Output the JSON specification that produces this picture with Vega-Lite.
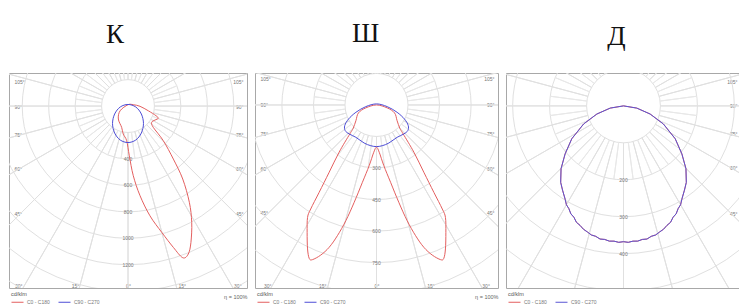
{
"$schema": "https://vega.github.io/schema/vega-lite/v6.json",
"padding": {"left": 8, "top": 19, "right": 0, "bottom": 0},
"background": "white",
"spacing": 6,
"datasets": {
"angles": [{"a":0},{"a":15},{"a":30},{"a":45},{"a":60},{"a":75},{"a":90},{"a":105},{"a":120},{"a":135},{"a":150},{"a":165},{"a":180},{"a":195},{"a":210},{"a":225},{"a":240},{"a":255},{"a":270},{"a":285},{"a":300},{"a":315},{"a":330},{"a":345}],
"half": [{"a":7.5},{"a":22.5},{"a":37.5},{"a":52.5},{"a":67.5},{"a":82.5},{"a":97.5},{"a":112.5},{"a":127.5},{"a":142.5},{"a":157.5},{"a":172.5},{"a":187.5},{"a":202.5},{"a":217.5},{"a":232.5},{"a":247.5},{"a":262.5},{"a":277.5},{"a":292.5},{"a":307.5},{"a":322.5},{"a":337.5},{"a":352.5}]
},
"hconcat": [
{
"width": 238, "height": 215,
"title": {"text": "К", "font": "Liberation Serif", "fontSize": 27, "fontWeight": "normal", "color": "#111", "anchor": "middle", "dx": -13, "baseline": "alphabetic", "offset": 3},
"resolve": {"axis": {"x": "independent", "y": "independent"}},
"layer": [
{"data": {"values": [{"r":200},{"r":400},{"r":600},{"r":800},{"r":1000},{"r":1200},{"r":1400},{"r":1600}]},
 "mark": {"type": "arc", "theta": 0, "theta2": 6.2832, "filled": false, "stroke": "#e0e0e0", "strokeWidth": 1, "clip": true},
 "encoding": {
  "x": {"datum": 0, "type": "quantitative", "scale": {"domain": [-900, 900], "nice": false, "zero": false}, "axis": null},
  "y": {"datum": 0, "type": "quantitative", "scale": {"domain": [-250, 1376.1], "nice": false, "zero": false, "reverse": true}, "axis": null},
  "radius": {"field": "r", "type": "quantitative", "stack": null, "scale": {"type": "linear", "domain": [0, 1000], "range": [0, 132.222], "zero": true, "nice": false}}}},
{"data": {"name": "angles"},
 "mark": {"type": "arc", "filled": false, "stroke": "#e0e0e0", "strokeWidth": 1, "clip": true},
 "encoding": {
  "x": {"datum": 0, "type": "quantitative", "axis": null},
  "y": {"datum": 0, "type": "quantitative", "axis": null},
  "theta": {"field": "a", "type": "quantitative", "stack": null, "scale": {"domain": [0, 360], "range": [0, 6.283185]}},
  "theta2": {"field": "a"},
  "radius": {"datum": 200, "type": "quantitative"},
  "radius2": {"datum": 2200}}},
{"data": {"name": "half"},
 "mark": {"type": "arc", "filled": false, "stroke": "#e8e8e8", "strokeWidth": 1, "clip": true},
 "encoding": {
  "x": {"datum": 0, "type": "quantitative", "axis": null},
  "y": {"datum": 0, "type": "quantitative", "axis": null},
  "theta": {"field": "a", "type": "quantitative", "stack": null},
  "theta2": {"field": "a"},
  "radius": {"datum": 200, "type": "quantitative"},
  "radius2": {"datum": 400}}},
{"data": {"values": [{"r":400},{"r":600},{"r":800},{"r":1000},{"r":1200}]},
 "mark": {"type": "text", "fontSize": 5, "color": "#777", "font": "Liberation Sans", "baseline": "middle"},
 "encoding": {
  "x": {"datum": 0, "type": "quantitative", "axis": null},
  "y": {"field": "r", "type": "quantitative", "axis": {"orient": "right", "values": [-189, 0, 212, 469, 809], "labelExpr": "datum.value < -100 ? '105°' : datum.value < 100 ? '90°' : datum.value < 300 ? '75°' : datum.value < 600 ? '60°' : '45°'", "labelAlign": "right", "labelPadding": -4, "labelBaseline": "middle", "title": null}},
  "text": {"field": "r", "type": "quantitative", "format": "d"}}},
{"data": {"values": [
{"p":"C0 - C180","i":0,"x":0,"y":-10},{"p":"C0 - C180","i":1,"x":-60,"y":36},{"p":"C0 - C180","i":2,"x":-73,"y":98},{"p":"C0 - C180","i":3,"x":-48,"y":161},{"p":"C0 - C180","i":4,"x":-36,"y":212},{"p":"C0 - C180","i":5,"x":-10,"y":262},{"p":"C0 - C180","i":6,"x":10,"y":376},{"p":"C0 - C180","i":7,"x":40,"y":527},{"p":"C0 - C180","i":8,"x":91,"y":678},{"p":"C0 - C180","i":9,"x":166,"y":830},{"p":"C0 - C180","i":10,"x":255,"y":955},{"p":"C0 - C180","i":11,"x":343,"y":1069},{"p":"C0 - C180","i":12,"x":414,"y":1147},{"p":"C0 - C180","i":13,"x":456,"y":1119},{"p":"C0 - C180","i":14,"x":476,"y":1031},{"p":"C0 - C180","i":15,"x":482,"y":880},{"p":"C0 - C180","i":16,"x":464,"y":728},{"p":"C0 - C180","i":17,"x":414,"y":552},{"p":"C0 - C180","i":18,"x":343,"y":401},{"p":"C0 - C180","i":19,"x":267,"y":262},{"p":"C0 - C180","i":20,"x":191,"y":161},{"p":"C0 - C180","i":21,"x":179,"y":123},{"p":"C0 - C180","i":22,"x":204,"y":106},{"p":"C0 - C180","i":23,"x":229,"y":93},{"p":"C0 - C180","i":24,"x":212,"y":73},{"p":"C0 - C180","i":25,"x":154,"y":36},{"p":"C0 - C180","i":26,"x":91,"y":2},{"p":"C0 - C180","i":27,"x":40,"y":-10},
{"p":"C90 - C270","i":0,"x":0,"y":-12},{"p":"C90 - C270","i":1,"x":58.5,"y":7},{"p":"C90 - C270","i":2,"x":101,"y":60},{"p":"C90 - C270","i":3,"x":117,"y":132},{"p":"C90 - C270","i":4,"x":101,"y":204},{"p":"C90 - C270","i":5,"x":58.5,"y":257},{"p":"C90 - C270","i":6,"x":0,"y":276},{"p":"C90 - C270","i":7,"x":-58.5,"y":257},{"p":"C90 - C270","i":8,"x":-101,"y":204},{"p":"C90 - C270","i":9,"x":-117,"y":132},{"p":"C90 - C270","i":10,"x":-101,"y":60},{"p":"C90 - C270","i":11,"x":-58.5,"y":7}
]},
 "mark": {"type": "line", "interpolate": "cardinal-closed", "strokeWidth": 1, "clip": true},
 "encoding": {
  "x": {"field": "x", "type": "quantitative", "axis": {"orient": "bottom", "values": [-830, -401, 0, 406, 827], "labelExpr": "abs(datum.value) > 600 ? '30°' : abs(datum.value) > 200 ? '15°' : '0°'", "labelAlign": "center", "labelBaseline": "middle", "labelPadding": -3, "title": "η = 100%", "titleAnchor": "end", "titleFontSize": 5.5, "titleFontWeight": "normal", "titleColor": "#666", "titleFont": "Liberation Sans", "titlePadding": 6}},
  "y": {"field": "y", "type": "quantitative", "axis": {"orient": "left", "values": [-189, 0, 212, 469, 809], "labelExpr": "datum.value < -100 ? '105°' : datum.value < 100 ? '90°' : datum.value < 300 ? '75°' : datum.value < 600 ? '60°' : '45°'", "labelAlign": "left", "labelPadding": -5, "labelBaseline": "middle", "title": null}},
  "color": {"field": "p", "type": "nominal", "scale": {"domain": ["C0 - C180", "C90 - C270"], "range": ["#e45f5f", "#4d4dd6"]}, "legend": {"orient": "none", "legendX": 2, "legendY": 219, "direction": "horizontal", "title": "cd/klm"}},
  "order": {"field": "i", "type": "quantitative"}}}
]
},
{
"width": 243, "height": 215,
"title": {"text": "Ш", "font": "Liberation Serif", "fontSize": 27, "fontWeight": "normal", "color": "#111", "anchor": "middle", "dx": -11, "baseline": "alphabetic", "offset": 4},
"resolve": {"axis": {"x": "independent", "y": "independent"}},
"layer": [
{"data": {"values": [{"r":150},{"r":300},{"r":450},{"r":600},{"r":750},{"r":900},{"r":1050}]},
 "mark": {"type": "arc", "theta": 0, "theta2": 6.2832, "filled": false, "stroke": "#e0e0e0", "strokeWidth": 1, "clip": true},
 "encoding": {
  "x": {"datum": 0, "type": "quantitative", "scale": {"domain": [-578, 578], "nice": false, "zero": false}, "axis": null},
  "y": {"datum": 0, "type": "quantitative", "scale": {"domain": [-152, 870.8], "nice": false, "zero": false, "reverse": true}, "axis": null},
  "radius": {"field": "r", "type": "quantitative", "stack": null, "scale": {"type": "linear", "domain": [0, 1000], "range": [0, 210.208], "zero": true, "nice": false}}}},
{"data": {"name": "angles"},
 "mark": {"type": "arc", "filled": false, "stroke": "#e0e0e0", "strokeWidth": 1, "clip": true},
 "encoding": {
  "x": {"datum": 0, "type": "quantitative", "axis": null},
  "y": {"datum": 0, "type": "quantitative", "axis": null},
  "theta": {"field": "a", "type": "quantitative", "stack": null, "scale": {"domain": [0, 360], "range": [0, 6.283185]}},
  "theta2": {"field": "a"},
  "radius": {"datum": 150, "type": "quantitative"},
  "radius2": {"datum": 1300}}},
{"data": {"name": "half"},
 "mark": {"type": "arc", "filled": false, "stroke": "#e8e8e8", "strokeWidth": 1, "clip": true},
 "encoding": {
  "x": {"datum": 0, "type": "quantitative", "axis": null},
  "y": {"datum": 0, "type": "quantitative", "axis": null},
  "theta": {"field": "a", "type": "quantitative", "stack": null},
  "theta2": {"field": "a"},
  "radius": {"datum": 150, "type": "quantitative"},
  "radius2": {"datum": 300}}},
{"data": {"values": [{"r":300},{"r":450},{"r":600},{"r":750}]},
 "mark": {"type": "text", "fontSize": 5, "color": "#777", "font": "Liberation Sans", "baseline": "middle"},
 "encoding": {
  "x": {"datum": 0, "type": "quantitative", "axis": null},
  "y": {"field": "r", "type": "quantitative", "axis": {"orient": "right", "values": [-124, 0, 138, 300, 514], "labelExpr": "datum.value < -60 ? '105°' : datum.value < 60 ? '90°' : datum.value < 200 ? '75°' : datum.value < 400 ? '60°' : '45°'", "labelAlign": "right", "labelPadding": -4, "labelBaseline": "middle", "title": null}},
  "text": {"field": "r", "type": "quantitative", "format": "d"}}},
{"data": {"values": [
{"p":"C0 - C180","i":0,"x":0,"y":0},{"p":"C0 - C180","i":1,"x":51,"y":14},{"p":"C0 - C180","i":2,"x":86,"y":38},{"p":"C0 - C180","i":3,"x":98,"y":75},{"p":"C0 - C180","i":4,"x":111,"y":111},{"p":"C0 - C180","i":5,"x":127,"y":138},{"p":"C0 - C180","i":6,"x":178,"y":225},{"p":"C0 - C180","i":7,"x":225,"y":320},{"p":"C0 - C180","i":8,"x":273,"y":416},{"p":"C0 - C180","i":9,"x":313,"y":495},{"p":"C0 - C180","i":10,"x":328,"y":535},{"p":"C0 - C180","i":11,"x":330,"y":606},{"p":"C0 - C180","i":12,"x":328,"y":685},{"p":"C0 - C180","i":13,"x":320,"y":730},{"p":"C0 - C180","i":14,"x":305,"y":736},{"p":"C0 - C180","i":15,"x":265,"y":714},{"p":"C0 - C180","i":16,"x":225,"y":677},{"p":"C0 - C180","i":17,"x":186,"y":622},{"p":"C0 - C180","i":18,"x":146,"y":551},{"p":"C0 - C180","i":19,"x":106,"y":463},{"p":"C0 - C180","i":20,"x":67,"y":368},{"p":"C0 - C180","i":21,"x":35,"y":289},{"p":"C0 - C180","i":22,"x":13,"y":225},{"p":"C0 - C180","i":23,"x":0,"y":201},
{"p":"C0 - C180","i":24,"x":-13,"y":225},{"p":"C0 - C180","i":25,"x":-35,"y":289},{"p":"C0 - C180","i":26,"x":-67,"y":368},{"p":"C0 - C180","i":27,"x":-106,"y":463},{"p":"C0 - C180","i":28,"x":-146,"y":551},{"p":"C0 - C180","i":29,"x":-186,"y":622},{"p":"C0 - C180","i":30,"x":-225,"y":677},{"p":"C0 - C180","i":31,"x":-265,"y":714},{"p":"C0 - C180","i":32,"x":-305,"y":736},{"p":"C0 - C180","i":33,"x":-320,"y":730},{"p":"C0 - C180","i":34,"x":-328,"y":685},{"p":"C0 - C180","i":35,"x":-330,"y":606},{"p":"C0 - C180","i":36,"x":-328,"y":535},{"p":"C0 - C180","i":37,"x":-313,"y":495},{"p":"C0 - C180","i":38,"x":-273,"y":416},{"p":"C0 - C180","i":39,"x":-225,"y":320},{"p":"C0 - C180","i":40,"x":-178,"y":225},{"p":"C0 - C180","i":41,"x":-127,"y":138},{"p":"C0 - C180","i":42,"x":-111,"y":111},{"p":"C0 - C180","i":43,"x":-98,"y":75},{"p":"C0 - C180","i":44,"x":-86,"y":38},{"p":"C0 - C180","i":45,"x":-51,"y":14},
{"p":"C90 - C270","i":0,"x":0,"y":-5},{"p":"C90 - C270","i":1,"x":51,"y":8},{"p":"C90 - C270","i":2,"x":98,"y":35},{"p":"C90 - C270","i":3,"x":133,"y":67},{"p":"C90 - C270","i":4,"x":151,"y":98},{"p":"C90 - C270","i":5,"x":149,"y":122},{"p":"C90 - C270","i":6,"x":130,"y":138},{"p":"C90 - C270","i":7,"x":98,"y":154},{"p":"C90 - C270","i":8,"x":59,"y":181},{"p":"C90 - C270","i":9,"x":27,"y":194},{"p":"C90 - C270","i":10,"x":0,"y":198},{"p":"C90 - C270","i":11,"x":-27,"y":194},{"p":"C90 - C270","i":12,"x":-59,"y":181},{"p":"C90 - C270","i":13,"x":-98,"y":154},{"p":"C90 - C270","i":14,"x":-130,"y":138},{"p":"C90 - C270","i":15,"x":-149,"y":122},{"p":"C90 - C270","i":16,"x":-151,"y":98},{"p":"C90 - C270","i":17,"x":-133,"y":67},{"p":"C90 - C270","i":18,"x":-98,"y":35},{"p":"C90 - C270","i":19,"x":-51,"y":8}
]},
 "mark": {"type": "line", "interpolate": "cardinal-closed", "strokeWidth": 1, "clip": true},
 "encoding": {
  "x": {"field": "x", "type": "quantitative", "axis": {"orient": "bottom", "values": [-520, -258, 0, 257, 519], "labelExpr": "abs(datum.value) > 400 ? '30°' : abs(datum.value) > 120 ? '15°' : '0°'", "labelAlign": "center", "labelBaseline": "middle", "labelPadding": -3, "title": "η = 100%", "titleAnchor": "end", "titleFontSize": 5.5, "titleFontWeight": "normal", "titleColor": "#666", "titleFont": "Liberation Sans", "titlePadding": 6}},
  "y": {"field": "y", "type": "quantitative", "axis": {"orient": "left", "values": [-124, 0, 138, 300, 514], "labelExpr": "datum.value < -60 ? '105°' : datum.value < 60 ? '90°' : datum.value < 200 ? '75°' : datum.value < 400 ? '60°' : '45°'", "labelAlign": "left", "labelPadding": -5, "labelBaseline": "middle", "title": null}},
  "color": {"field": "p", "type": "nominal", "scale": {"domain": ["C0 - C180", "C90 - C270"], "range": ["#e45f5f", "#4d4dd6"]}, "legend": {"orient": "none", "legendX": 2, "legendY": 219, "direction": "horizontal", "title": "cd/klm"}},
  "order": {"field": "i", "type": "quantitative"}}}
]
},
{
"width": 235, "height": 215,
"title": {"text": "Д", "font": "Liberation Serif", "fontSize": 27, "fontWeight": "normal", "color": "#111", "anchor": "middle", "dx": -7, "baseline": "alphabetic", "offset": 1},
"resolve": {"axis": {"x": "independent", "y": "independent"}},
"layer": [
{"data": {"values": [{"r":100},{"r":200},{"r":300},{"r":400},{"r":500},{"r":600}]},
 "mark": {"type": "arc", "theta": 0, "theta2": 6.2832, "filled": false, "stroke": "#e0e0e0", "strokeWidth": 1, "clip": true},
 "encoding": {
  "x": {"datum": 0, "type": "quantitative", "scale": {"domain": [-318, 318], "nice": false, "zero": false}, "axis": null},
  "y": {"datum": 0, "type": "quantitative", "scale": {"domain": [-89, 492.9], "nice": false, "zero": false, "reverse": true}, "axis": null},
  "radius": {"field": "r", "type": "quantitative", "stack": null, "scale": {"type": "linear", "domain": [0, 1000], "range": [0, 369.497], "zero": true, "nice": false}}}},
{"data": {"name": "angles"},
 "mark": {"type": "arc", "filled": false, "stroke": "#e0e0e0", "strokeWidth": 1, "clip": true},
 "encoding": {
  "x": {"datum": 0, "type": "quantitative", "axis": null},
  "y": {"datum": 0, "type": "quantitative", "axis": null},
  "theta": {"field": "a", "type": "quantitative", "stack": null, "scale": {"domain": [0, 360], "range": [0, 6.283185]}},
  "theta2": {"field": "a"},
  "radius": {"datum": 100, "type": "quantitative"},
  "radius2": {"datum": 700}}},
{"data": {"name": "half"},
 "mark": {"type": "arc", "filled": false, "stroke": "#e8e8e8", "strokeWidth": 1, "clip": true},
 "encoding": {
  "x": {"datum": 0, "type": "quantitative", "axis": null},
  "y": {"datum": 0, "type": "quantitative", "axis": null},
  "theta": {"field": "a", "type": "quantitative", "stack": null},
  "theta2": {"field": "a"},
  "radius": {"datum": 100, "type": "quantitative"},
  "radius2": {"datum": 200}}},
{"data": {"values": [{"r":200},{"r":300},{"r":400}]},
 "mark": {"type": "text", "fontSize": 5, "color": "#777", "font": "Liberation Sans", "baseline": "middle"},
 "encoding": {
  "x": {"datum": 0, "type": "quantitative", "axis": null},
  "y": {"field": "r", "type": "quantitative", "axis": {"orient": "right", "values": [-66, 0, 76, 168, 290], "labelExpr": "datum.value < -30 ? '105°' : datum.value < 30 ? '90°' : datum.value < 120 ? '75°' : datum.value < 230 ? '60°' : '45°'", "labelAlign": "right", "labelPadding": -4, "labelBaseline": "middle", "title": null}},
  "text": {"field": "r", "type": "quantitative", "format": "d"}}},
{"data": {"values": [
{"i":0,"x":0,"y":0},{"i":1,"x":36,"y":6},{"i":2,"x":72,"y":22},{"i":3,"x":108,"y":49},{"i":4,"x":140,"y":89},{"i":5,"x":158,"y":130},{"i":6,"x":169,"y":170},{"i":7,"x":170,"y":207},{"i":8,"x":165,"y":228},{"i":9,"x":157.9,"y":252.6},{"i":10,"x":154.5,"y":267.6},{"i":11,"x":147.9,"y":278},{"i":12,"x":142.5,"y":292.1},{"i":13,"x":134.2,"y":301.4},{"i":14,"x":127.3,"y":315.2},{"i":15,"x":117.7,"y":323.3},{"i":16,"x":108.5,"y":333.8},{"i":17,"x":97.8,"y":341.2},{"i":18,"x":87.1,"y":349.3},{"i":19,"x":75,"y":353.1},{"i":20,"x":63.5,"y":360.4},{"i":21,"x":50.8,"y":361.5},{"i":22,"x":38.5,"y":366},{"i":23,"x":25.6,"y":366.1},{"i":24,"x":12.9,"y":369.3},{"i":25,"x":0,"y":367.5},
{"i":26,"x":-12.9,"y":369.3},{"i":27,"x":-25.6,"y":366.1},{"i":28,"x":-38.5,"y":366},{"i":29,"x":-50.8,"y":361.5},{"i":30,"x":-63.5,"y":360.4},{"i":31,"x":-75,"y":353.1},{"i":32,"x":-87.1,"y":349.3},{"i":33,"x":-97.8,"y":341.2},{"i":34,"x":-108.5,"y":333.8},{"i":35,"x":-117.7,"y":323.3},{"i":36,"x":-127.3,"y":315.2},{"i":37,"x":-134.2,"y":301.4},{"i":38,"x":-142.5,"y":292.1},{"i":39,"x":-147.9,"y":278},{"i":40,"x":-154.5,"y":267.6},{"i":41,"x":-157.9,"y":252.6},{"i":42,"x":-165,"y":228},{"i":43,"x":-170,"y":207},{"i":44,"x":-169,"y":170},{"i":45,"x":-158,"y":130},{"i":46,"x":-140,"y":89},{"i":47,"x":-108,"y":49},{"i":48,"x":-72,"y":22},{"i":49,"x":-36,"y":6}
]},
 "layer": [
 {"mark": {"type": "line", "interpolate": "linear-closed", "strokeWidth": 1, "clip": true},
  "encoding": {
   "x": {"field": "x", "type": "quantitative", "axis": {"orient": "bottom", "values": [-298, -149, 0, 143, 292], "labelExpr": "abs(datum.value) > 220 ? '30°' : abs(datum.value) > 70 ? '15°' : '0°'", "labelAlign": "center", "labelBaseline": "middle", "labelPadding": -3, "title": "η = 100%", "titleAnchor": "end", "titleFontSize": 5.5, "titleFontWeight": "normal", "titleColor": "#666", "titleFont": "Liberation Sans", "titlePadding": 6}},
   "y": {"field": "y", "type": "quantitative", "axis": {"orient": "left", "values": [-66, 0, 76, 168, 290], "labelExpr": "datum.value < -30 ? '105°' : datum.value < 30 ? '90°' : datum.value < 120 ? '75°' : datum.value < 230 ? '60°' : '45°'", "labelAlign": "left", "labelPadding": -5, "labelBaseline": "middle", "title": null}},
   "color": {"datum": "C0 - C180", "type": "nominal", "scale": {"domain": ["C0 - C180", "C90 - C270"], "range": ["#e45f5f", "#5a55d4"]}, "legend": {"orient": "none", "legendX": 2, "legendY": 219, "direction": "horizontal", "title": "cd/klm"}},
   "order": {"field": "i", "type": "quantitative"}}},
 {"mark": {"type": "line", "interpolate": "linear-closed", "strokeWidth": 1, "clip": true},
  "encoding": {
   "x": {"field": "x", "type": "quantitative", "axis": null},
   "y": {"field": "y", "type": "quantitative", "axis": null},
   "color": {"datum": "C90 - C270", "type": "nominal"},
   "order": {"field": "i", "type": "quantitative"}}}
 ]}
]
}
],
"resolve": {"scale": {"color": "independent", "x": "independent", "y": "independent", "radius": "independent", "theta": "independent"}, "legend": {"color": "independent"}},
"config": {
 "view": {"stroke": "#a8a8a8", "strokeWidth": 1},
 "axis": {"domain": false, "ticks": false, "tickSize": 0, "grid": false, "labelFontSize": 5, "labelColor": "#777", "labelFont": "Liberation Sans", "labelOverlap": false, "labelFlush": false},
 "legend": {"titleFontSize": 5.5, "titleFontWeight": "normal", "titleColor": "#555", "titleFont": "Liberation Sans", "titlePadding": -2, "labelFontSize": 5, "labelColor": "#777", "labelFont": "Liberation Sans", "symbolType": "stroke", "symbolSize": 144, "symbolStrokeWidth": 1, "columnPadding": 6, "labelOffset": 3, "padding": 0, "titleLimit": 100},
 "title": {"subtitlePadding": 0}
}
}
